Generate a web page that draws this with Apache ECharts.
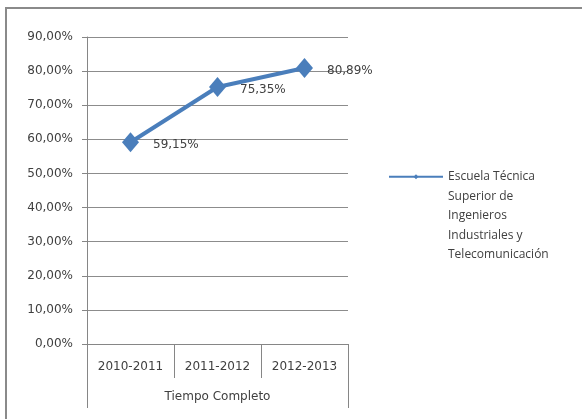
<!DOCTYPE html>
<html><head><meta charset="utf-8">
<script src="https://cdn.jsdelivr.net/npm/echarts@6/dist/echarts.min.js"></script>
<style>html,body{margin:0;padding:0;background:#fff}#c{width:582px;height:419px}</style>
</head><body><div id="c"></div>
<script>
const categories = ['2010-2011', '2011-2012', '2012-2013'];
const groupLabel = ['Tiempo Completo'];
const seriesName = 'Escuela Técnica Superior de Ingenieros Industriales y Telecomunicación';
const legendLines = ['Escuela Técnica', 'Superior de', 'Ingenieros', 'Industriales y', 'Telecomunicación'];
const values = [59.15, 75.35, 80.89];
const yMin = 0, yMax = 90, yStep = 10;

const fmt = v => v.toFixed(2).replace('.', ',') + '%';
const chart = echarts.init(document.getElementById('c'));
chart.setOption({
  animation: false,
  backgroundColor: '#fff',
  graphic: [{type: 'rect', shape: {x: 6, y: 8, width: 700, height: 500}, style: {fill: 'none', stroke: '#8a8a8a', lineWidth: 2}}],
  grid: {left: 87, top: 37, right: 234, bottom: 75, containLabel: false},
  legend: {
    orient: 'vertical', left: 388, top: 89, padding: 0,
    itemWidth: 54, itemHeight: 6,
    formatter: () => '\n\n\n\n' + legendLines.join('\n'),
    textStyle: {fontFamily: 'Open Sans', fontSize: 12, color: '#404040', lineHeight: 19.5}
  },
  xAxis: [{
    type: 'category', data: categories, position: 'bottom', boundaryGap: true,
    axisLine: {lineStyle: {color: '#868686'}},
    axisTick: {show: true, length: 34, interval: 0, lineStyle: {color: '#868686'}},
    axisLabel: {margin: 17, fontFamily: 'DejaVu Sans', fontSize: 12, color: '#404040', interval: 0}
  }, {
    type: 'category', data: groupLabel, position: 'bottom', boundaryGap: true,
    axisLine: {show: false},
    axisTick: {show: true, length: 64, interval: 0, lineStyle: {color: '#868686'}},
    axisLabel: {margin: 47, fontFamily: 'DejaVu Sans', fontSize: 12, color: '#404040'}
  }],
  yAxis: {
    type: 'value', min: yMin, max: yMax, interval: yStep,
    axisLine: {show: true, lineStyle: {color: '#868686'}},
    axisTick: {show: true, length: 5, lineStyle: {color: '#868686'}},
    splitLine: {lineStyle: {color: '#8c8c8c'}},
    axisLabel: {formatter: v => fmt(v), fontFamily: 'DejaVu Sans', fontSize: 12, color: '#404040', margin: 14}
  },
  series: [{
    name: seriesName, type: 'line', data: values, xAxisIndex: 0,
    symbol: 'diamond', symbolSize: [17, 20],
    lineStyle: {color: '#4a7ebb', width: 4},
    itemStyle: {color: '#4a7ebb'},
    label: {show: true, position: 'right', distance: 14, offset: [0, 3], formatter: p => fmt(p.value),
      fontFamily: 'DejaVu Sans', fontSize: 12, color: '#404040'}
  }]
});
</script></body></html>
